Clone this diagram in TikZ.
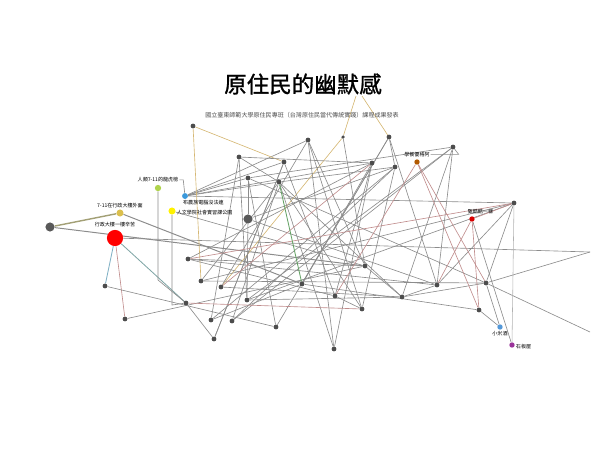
\documentclass[tikz,border=0pt]{standalone}
\usepackage{fontspec}
\usepackage{xcolor}
\usetikzlibrary{backgrounds}
\newfontfamily\cjk{Noto Sans CJK TC}
\newfontfamily\cjkmid[FakeBold=1.2]{Noto Sans CJK TC}

\begin{document}
\begin{tikzpicture}[x=0.025cm,y=-0.025cm,
          dot/.style={circle, fill=black!70, inner sep=0pt, minimum size=3.4pt},
          bigdot/.style={circle, fill=black!65, inner sep=0pt, minimum size=6.5pt},
          tag/.style={font=\cjk\fontsize{3.6}{4}\selectfont, inner sep=0.5pt},
          link/.style={draw=black!45, line width=0.45pt},
          redlink/.style={draw=red!45!black!45, line width=0.45pt},
          tanlink/.style={draw=orange!60!yellow!70!black!55, line width=0.45pt}
        ]
          \useasboundingbox (0,0) rectangle (600,450);

          \node[font=\cjkmid\fontsize{16}{18}\selectfont] (title) at (303,84) {原住民的幽默感};
          \node[font=\cjk\fontsize{4.3}{5}\selectfont, text=black!70] (sub) at (302,115) {國立臺東師範大學原住民專班（台灣原住民當代傳統實踐）課程成果發表};

          \coordinate (e1) at (356,96);
          \coordinate (e2) at (362,96);
          \coordinate (e3) at (590,252);
          \coordinate (e4) at (590,332);

          \node[bigdot] (a) at (50,227) {};
          \node[dot, minimum size=5pt, fill=orange!40!yellow!80!black!70] (sev) at (120,213) {};
          \node[circle, fill=red, inner sep=0pt, minimum size=11.5pt] (adm) at (115,238) {};
          \node[dot, minimum size=4.5pt, fill=green!45!black!45!yellow!70] (hum) at (158,188) {};
          \node[dot, minimum size=4.2pt, fill=cyan!70!blue!80] (bun) at (185,196) {};
          \node[dot, minimum size=5pt, fill=yellow] (art) at (172,211) {};
          \node[bigdot] (g1) at (248,219) {};
          \node[dot, minimum size=3.8pt, fill=orange!70!black] (yog) at (417,162) {};
          \node[dot, minimum size=3.8pt, fill=red!85!black] (ku) at (472,219) {};
          \node[dot, minimum size=3.8pt, fill=cyan!60!blue!70] (mi) at (500,327) {};
          \node[dot, minimum size=3.8pt, fill=violet!80] (sb) at (512,345) {};

          \node[tag, anchor=south] (lsev) at (sev.north) {7-11在行政大樓外面};
          \node[tag, anchor=south] (ladm) at ([yshift=1pt]adm.north) {行政大樓一樓辛苦};
          \node[tag, anchor=south] (lhum) at ([yshift=1pt]hum.north) {人類7-11的龍虎榜};
          \node[tag, anchor=north west] (lbun) at ([xshift=-2pt]bun.south) {布農族電腦沒法連};
          \node[tag, anchor=west] (lart) at ([yshift=-1pt]art.east) {人文學院社會實習課公園};
          \node[tag, anchor=south] (lyog) at ([yshift=1pt]yog.north) {學餐優格阿};
          \node[tag, anchor=south] (lku) at ([xshift=6pt,yshift=1pt]ku.north) {甄酷酷一樣};
          \node[tag, anchor=north] (lmi) at (mi.south) {小米酒};
          \node[tag, anchor=west] (lsb) at ([yshift=-1pt]sb.east) {石板屋};

          \node[dot] (g2) at (193,126) {};
          \node[dot] (g3) at (239,157) {};
          \node[dot] (g4) at (284,162) {};
          \node[dot] (g5) at (308,140) {};
          \node[dot, minimum size=2.5pt] (g6) at (343,137) {};
          \node[dot] (g7) at (389,137) {};
          \node[dot] (g8) at (453,147) {};
          \node[dot] (g9) at (372,163) {};
          \node[dot] (g10) at (395,167) {};
          \node[dot] (g11) at (248,178) {};
          \node[dot] (g12) at (279,182) {};
          \node[dot] (g13) at (514,203) {};
          \node[dot] (g14) at (188,259) {};
          \node[dot] (g15) at (201,281) {};
          \node[dot] (g16) at (221,287) {};
          \node[dot] (g17) at (105,286) {};
          \node[dot] (g18) at (125,319) {};
          \node[dot] (g19) at (186,303) {};
          \node[dot] (g20) at (211,320) {};
          \node[dot] (g21) at (214,339) {};
          \node[dot] (g22) at (232,321) {};
          \node[dot] (g23) at (247,300) {};
          \node[dot] (g24) at (276,327) {};
          \node[dot] (g25) at (302,284) {};
          \node[dot] (g26) at (365,266) {};
          \node[dot] (g27) at (335,296) {};
          \node[dot] (g28) at (402,297) {};
          \node[dot] (g29) at (362,309) {};
          \node[dot] (g30) at (437,285) {};
          \node[dot] (g31) at (486,283) {};
          \node[dot] (g32) at (479,310) {};
          \node[dot] (g33) at (334,349) {};

          \begin{scope}[on background layer]
          \draw[draw=olive!50!black!55, line width=1pt] (a) -- (sev);
          \draw[link, line width=0.7pt] (a) -- (g26);
          \draw[link, line width=0.7pt] (sev) -- (g25);
          \draw[draw=cyan!60!black!60, line width=0.6pt] (adm) -- (g17);
          \draw[redlink] (adm) -- (g18);
          \draw[draw=teal!60!black!50, line width=0.6pt] (adm) -- (g19);
          \draw[link] (adm) -- (e3);
          \draw[link] (hum) -- ++(0,92) -- (g19);
          \draw[link] (lhum.east) -- ++(4,0) -- (bun);
          \draw[link] (art) -- ++(0,94) -- (g19);
          \foreach \t in {g4,g11,g12,g5,g13,g9}
            \draw[link] (bun) -- (\t);
          \draw[link] (g1) -- (g23);
          \draw[link] (g1) -- (g11);
          \draw[tanlink] (g2) -- (g4);
          \draw[tanlink] (g2) -- (g15);
          \draw[tanlink] (e1) -- (g6) -- (g16);
          \draw[tanlink] (e2) -- (g7);
          \draw[link] (lyog.east) -- ++(28,0) -- (g8);
          \foreach \s/\t in {g3/g12, g3/g20, g3/g23, g4/g21, g5/g29, g5/g26, g7/g10, g7/g30,
              g7/g24, g8/g30, g8/g28, g9/g25, g9/g33, g10/g29, g10/g22, g13/g30, g13/g31,
              g14/g27, g14/g9, g15/g12, g15/g13, g16/g5, g16/g28, g17/g24, g18/g26, g19/g21,
              g20/g10, g21/g4, g22/g8, g23/g13, g23/g28, g24/g11, g25/g7, g25/g32, g26/g28,
              g27/g9, g27/g29, g29/g12, g31/e3, g31/e4, g33/g5, g33/g12, g30/g28, g30/g14,
              g11/g8, g12/g10, g3/g9, g4/g27, g6/g26, g22/g12, g28/g31, g14/g26, g20/g25,
              g1/g30, g1/g10, g11/g31, g12/g28, art/g26, g23/g8, g15/g31}
            \draw[link] (\s) -- (\t);
          \foreach \s/\t in {yog/g31, yog/g32, yog/g27, ku/g30, ku/g32, ku/g13, g16/g9, g19/g29, g14/g13}
            \draw[redlink] (\s) -- (\t);
          \draw[link] (g32) -- (mi);
          \draw[link] (g31) -- (mi);
          \draw[link] (ku) -- (sb);
          \draw[draw=black!30, line width=0.4pt] (g13) -- (sb);
          \draw[draw=green!40!black!60, line width=0.6pt] (g12) -- (g25);
          \end{scope}
        \end{tikzpicture}
\end{document}
